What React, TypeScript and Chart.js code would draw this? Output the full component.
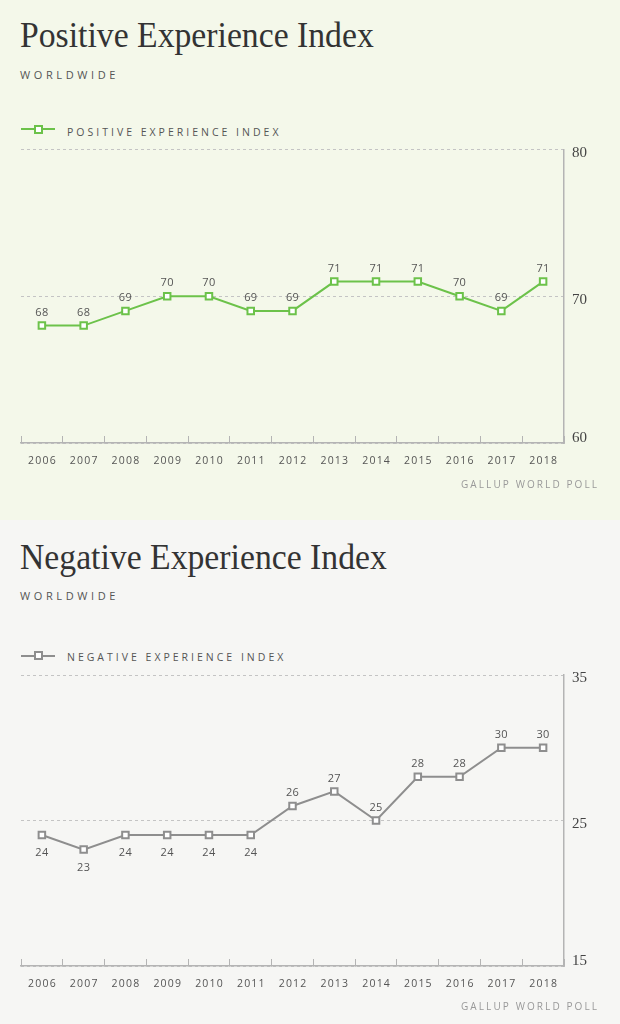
import React, { useEffect, useRef } from 'react';
import { Chart, registerables } from 'chart.js';

Chart.register(...registerables);

const years = ['2006', '2007', '2008', '2009', '2010', '2011', '2012', '2013', '2014', '2015', '2016', '2017', '2018'];
const positiveValues = [68, 68, 69, 70, 70, 69, 69, 71, 71, 71, 70, 69, 71];
const negativeValues = [24, 23, 24, 24, 24, 24, 26, 27, 25, 28, 28, 30, 30];
const positiveAxis = { min: 60, max: 80, step: 10 };
const negativeAxis = { min: 15, max: 35, step: 10 };
const positiveLabelBelow = [false, false, false, false, false, false, false, false, false, false, false, false, false];
const negativeLabelBelow = [true, true, true, true, true, true, false, false, false, false, false, false, false];

type PanelProps = {
  title: string;
  legend: string;
  color: string;
  bg: string;
  height: number;
  values: number[];
  labelBelow: boolean[];
  axis: { min: number; max: number; step: number };
  titleTop: number;
  subTop: number;
  legendTop: number;
  markerY: number;
  chartTop: number;
  chartBottom: number;
  sourceTop: number;
};

const PLOT_LEFT = 21;
const PLOT_RIGHT = 564;
const W = 620;
const TOP_PAD = 30;

function Panel(p: PanelProps) {
  const ref = useRef<HTMLCanvasElement>(null);
  const plotH = p.chartBottom - p.chartTop;
  const canvasH = Math.round(plotH + TOP_PAD + 60);
  const canvasTop = p.chartBottom + 60 - canvasH;

  useEffect(() => {
    const labelsPlugin = {
      id: 'valueLabels',
      afterDraw(chart: any) {
        const ctx = chart.ctx as CanvasRenderingContext2D;
        const meta = chart.getDatasetMeta(0);
        ctx.save();
        ctx.fillStyle = '#555';
        ctx.textAlign = 'center';
        ctx.textBaseline = 'middle';
        ctx.font = '11px "Open Sans"';
        (ctx as any).letterSpacing = '0.3px';
        meta.data.forEach((pt: any, i: number) => {
          const below = p.labelBelow[i];
          ctx.fillText(String(p.values[i]), pt.x, pt.y + (below ? 18 : -13));
        });
        const xs = chart.scales.x;
        ctx.font = '10.5px "Open Sans"';
        (ctx as any).letterSpacing = '1.2px';
        years.forEach((y, i) => {
          ctx.fillText(y, xs.getPixelForValue(i) + 0.6, chart.chartArea.bottom + 18);
        });
        // right-axis labels
        const ys = chart.scales.y;
        ctx.font = '15px "Liberation Serif"';
        (ctx as any).letterSpacing = '0px';
        ctx.fillStyle = '#444';
        ctx.textAlign = 'left';
        ys.ticks.forEach((t: any, i: number) => {
          const off = i === 0 ? -5 : 3.5;
          ctx.fillText(String(t.value), chart.chartArea.right + 8, ys.getPixelForValue(t.value) + off);
        });
        ctx.restore();
      },
    };

    const chart = new Chart(ref.current as HTMLCanvasElement, {
      type: 'line',
      data: {
        labels: years,
        datasets: [
          {
            data: p.values,
            borderColor: p.color,
            borderWidth: 2,
            pointStyle: 'rect',
            pointRadius: 4.6,
            pointBorderWidth: 2,
            pointBackgroundColor: '#ffffff',
            pointBorderColor: p.color,
            tension: 0,
          },
        ],
      },
      options: {
        animation: false,
        responsive: false,
        maintainAspectRatio: false,
        layout: { padding: { top: canvasH - 60 - plotH, left: PLOT_LEFT, right: 0, bottom: 0 } },
        plugins: { legend: { display: false }, tooltip: { enabled: false } },
        scales: {
          x: {
            offset: true,
            grid: {
              offset: true,
              drawOnChartArea: false,
              drawTicks: true,
              tickLength: -7,
              color: '#b4b4b4',
              lineWidth: 1,
            },
            border: { color: '#b4b4b4', width: 1.5 },
            ticks: { display: false },
            afterFit: (s: any) => {
              s.height = 60;
            },
          },
          y: {
            position: 'right',
            min: p.axis.min,
            max: p.axis.max,
            ticks: {
              stepSize: p.axis.step,
              display: false,
            },
            grid: { color: '#c4c4c4', lineWidth: 1, drawTicks: false },
            border: { display: true, color: '#b4b4b4', width: 1.5, dash: [3, 3] },
            afterFit: (s: any) => {
              s.width = W - PLOT_RIGHT;
            },
          },
        },
      },
      plugins: [labelsPlugin],
    } as any);
    return () => chart.destroy();
  }, []);

  const sans = '"Open Sans", sans-serif';
  return (
    <div style={{ position: 'relative', width: W, height: p.height, background: p.bg, overflow: 'hidden' }}>
      <div
        style={{
          position: 'absolute',
          left: 20,
          top: p.titleTop,
          fontFamily: '"Liberation Serif", serif',
          fontSize: 35,
          lineHeight: '35px',
          color: '#333',
          whiteSpace: 'nowrap',
          transform: 'scaleX(0.963)',
          transformOrigin: 'left top',
        }}
      >
        {p.title}
      </div>
      <div
        style={{
          position: 'absolute',
          left: 20,
          top: p.subTop,
          fontFamily: sans,
          fontSize: 11,
          lineHeight: '11px',
          letterSpacing: '3.6px',
          color: '#555',
          whiteSpace: 'nowrap',
        }}
      >
        WORLDWIDE
      </div>
      <div style={{ position: 'absolute', left: 21, top: p.markerY - 1, width: 34, height: 2, background: p.color }} />
      <div
        style={{
          position: 'absolute',
          left: 34,
          top: p.markerY - 4.5,
          width: 5,
          height: 5,
          border: `2px solid ${p.color}`,
          background: '#fff',
        }}
      />
      <div
        style={{
          position: 'absolute',
          left: 67,
          top: p.legendTop,
          fontFamily: sans,
          fontSize: 10.5,
          lineHeight: '10.5px',
          letterSpacing: '3px',
          color: '#555',
          whiteSpace: 'nowrap',
        }}
      >
        {p.legend}
      </div>
      <canvas
        ref={ref}
        width={W}
        height={canvasH}
        style={{ position: 'absolute', left: 0, top: canvasTop, width: W, height: canvasH }}
      />
      <div
        style={{
          position: 'absolute',
          left: 461,
          top: p.sourceTop,
          fontFamily: sans,
          fontSize: 10,
          lineHeight: '10px',
          letterSpacing: '2.1px',
          color: '#999',
          whiteSpace: 'nowrap',
        }}
      >
        GALLUP WORLD POLL
      </div>
    </div>
  );
}

export default function App() {
  return (
    <div style={{ position: 'absolute', left: 0, top: 0, width: W, height: 1024 }}>
      <Panel
        title="Positive Experience Index"
        legend="POSITIVE EXPERIENCE INDEX"
        color="#6cc24a"
        bg="#f4f8ea"
        height={520}
        values={positiveValues}
        labelBelow={positiveLabelBelow}
        axis={positiveAxis}
        titleTop={17.7}
        subTop={68.5}
        legendTop={127.2}
        markerY={129}
        chartTop={149.5}
        chartBottom={443}
        sourceTop={478.7}
      />
      <Panel
        title="Negative Experience Index"
        legend="NEGATIVE EXPERIENCE INDEX"
        color="#8e8e8e"
        bg="#f6f6f4"
        height={504}
        values={negativeValues}
        labelBelow={negativeLabelBelow}
        axis={negativeAxis}
        titleTop={19.7}
        subTop={70}
        legendTop={131.5}
        markerY={135.7}
        chartTop={155}
        chartBottom={446}
        sourceTop={480.7}
      />
    </div>
  );
}
